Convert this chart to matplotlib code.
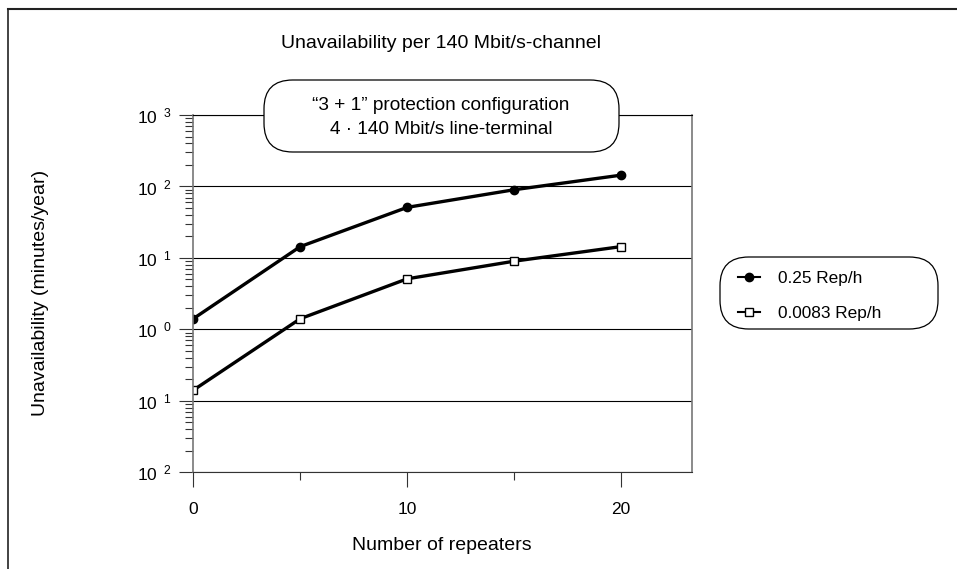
import matplotlib
matplotlib.use("Agg")
import matplotlib.pyplot as plt
from matplotlib.patches import FancyBboxPatch
from matplotlib.lines import Line2D
from matplotlib.ticker import FixedLocator, LogLocator, NullFormatter

plt.rcParams['font.family'] = ['Liberation Sans', 'DejaVu Sans']
plt.rcParams['mathtext.fontset'] = 'custom'
plt.rcParams['mathtext.rm'] = 'Liberation Sans'

# Data
repeaters = [0, 5, 10, 15, 20]
rep_025 = [1.41, 14.4, 51, 90, 144]
rep_00083 = [0.141, 1.41, 5.1, 9.0, 14.4]
series_labels = ["0.25 Rep/h", "0.0083 Rep/h"]
ytick_vals = [1e-2, 1e-1, 1e0, 1e1, 1e2, 1e3]
ytick_text = ["2", "1", "0", "1", "2", "3"]   # exponents as printed (no minus sign)
xtick_major = [0, 10, 20]
xtick_minor = [5, 15]

W, H = 957, 569
fig = plt.figure(figsize=(W / 100, H / 100), dpi=100)
ax = fig.add_axes([193.3 / W, 1 - 472.3 / H, (691.7 - 193.3) / W, (472.3 - 115) / H])

l1, = ax.plot(repeaters, rep_025, color='black', lw=2.4, marker='o', markersize=6,
              markerfacecolor='black', label=series_labels[0])
l2, = ax.plot(repeaters, rep_00083, color='black', lw=2.4, marker='s', markersize=5.5,
              markerfacecolor='white', markeredgecolor='black', markeredgewidth=1,
              label=series_labels[1])

ax.set_yscale('log')
ax.set_ylim(1e-2, 1e3)
ax.set_xlim(0, 23.3)

ax.yaxis.set_major_locator(FixedLocator(ytick_vals))
ax.set_yticklabels([r"$\mathregular{10^{\;\;%s}}$" % e for e in ytick_text])
ax.yaxis.set_minor_locator(LogLocator(base=10, subs=range(2, 10)))
ax.yaxis.set_minor_formatter(NullFormatter())

ax.xaxis.set_major_locator(FixedLocator(xtick_major))
ax.xaxis.set_minor_locator(FixedLocator(xtick_minor))
ax.set_xticklabels([str(v) for v in xtick_major])

ax.tick_params(axis='y', which='major', direction='out', length=10.4, width=0.8,
               labelsize=12.5, pad=5.5, color='#333333')
ax.tick_params(axis='y', which='minor', direction='out', length=5.6, width=0.8,
               color='#333333')
ax.tick_params(axis='x', which='major', direction='out', length=10.5, width=0.8,
               labelsize=12.5, pad=11, color='#333333')
ax.tick_params(axis='x', which='minor', direction='out', length=5.5, width=0.8,
               color='#333333')

ax.grid(True, which='major', axis='y', color='black', lw=0.8)
ax.set_axisbelow(True)
for side in ['left', 'right']:
    ax.spines[side].set_color('#777777')
    ax.spines[side].set_linewidth(1.2)
ax.spines['top'].set_color('black')
ax.spines['top'].set_linewidth(0.8)
ax.spines['bottom'].set_color('#333333')
ax.spines['bottom'].set_linewidth(0.8)

# titles and axis labels
fig.text(441 / W, 1 - 44 / H, "Unavailability per 140 Mbit/s-channel",
         ha='center', va='center', fontsize=14)
fig.text(40.5 / W, 1 - 293 / H, "Unavailability (minutes/year)", rotation=90,
         ha='center', va='center', fontsize=14)
fig.text(442 / W, 1 - 546 / H, "Number of repeaters", ha='center', va='center',
         fontsize=14)

# annotation box
box = FancyBboxPatch((264 / W, 1 - 152 / H), (619 - 264) / W, (152 - 80) / H,
                     boxstyle="round,pad=0,rounding_size=0.03",
                     transform=fig.transFigure, facecolor='white',
                     edgecolor='black', lw=0.9, zorder=5,
                     mutation_aspect=W / H)
fig.add_artist(box)
fig.text(441 / W, 1 - 106 / H, "\u201c3 + 1\u201d protection configuration",
         ha='center', va='center', fontsize=13.7, zorder=6)
fig.text(441 / W, 1 - 129 / H, "4 \u00b7 140 Mbit/s line-terminal",
         ha='center', va='center', fontsize=13.7, zorder=6)

# legend frame drawn separately (wide right padding as in the original)
lbox = FancyBboxPatch((720 / W, 1 - 329 / H), (938 - 720) / W, (329 - 257) / H,
                      boxstyle="round,pad=0,rounding_size=0.03",
                      transform=fig.transFigure, facecolor='white',
                      edgecolor='black', lw=0.9, zorder=5,
                      mutation_aspect=W / H)
fig.add_artist(lbox)
leg = fig.legend(handles=[l1, l2], loc='center left',
                 bbox_to_anchor=(726 / W, 1 - 296 / H),
                 fontsize=12.4, handlelength=1.3, handletextpad=1.0,
                 borderpad=0.2, labelspacing=1.15, frameon=False)
leg.set_zorder(6)
for h in leg.legend_handles:
    h.set_linewidth(1.5)

# outer frame (top and left edges)
fig.add_artist(Line2D([8 / W, 1.0], [1 - 9 / H, 1 - 9 / H], transform=fig.transFigure,
                      color='#222222', lw=1.5))
fig.add_artist(Line2D([8 / W, 8 / W], [0, 1 - 9 / H], transform=fig.transFigure,
                      color='#222222', lw=1.2))

fig.savefig("out.png", dpi=100)
